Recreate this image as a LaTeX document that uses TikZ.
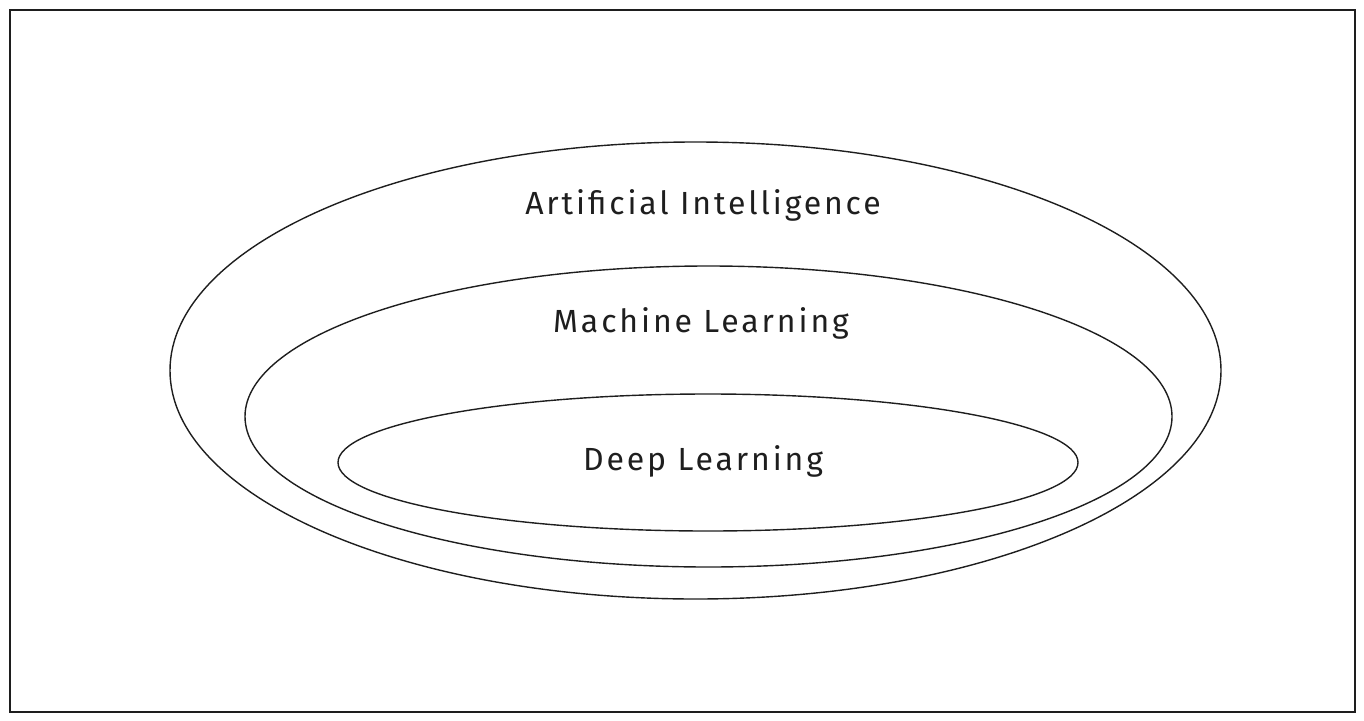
\documentclass[tikz,border=0pt]{standalone}
\usepackage{fontspec}
\usetikzlibrary{shapes.geometric}
\setmainfont{Fira Sans}[LetterSpace=9]
\definecolor{ink}{HTML}{1E1E1E}
\begin{document}
\begin{tikzpicture}[x=1pt,y=-1pt,
  shape line/.style={draw=ink,line width=1.4pt},
  oval/.style={draw=ink,line width=1.4pt,ellipse,inner sep=0pt},
  label/.style={text=ink,font=\fontsize{32}{38}\selectfont,anchor=base,inner sep=0pt}]
\useasboundingbox (0,0) rectangle (1364,720);
\draw[shape line] (10,10) rectangle (1355,712);
\node[oval,minimum width=1051pt,minimum height=457pt] (ai) at (695.5,370.5) {};
\node[oval,minimum width=927pt,minimum height=301pt] (ml) at (708.5,416.5) {};
\node[oval,minimum width=740pt,minimum height=137pt] (dl) at (708,462.5) {};
\node[label] (tai) at (703,214) {Artificial Intelligence};
\node[label] (tml) at (701,332) {Machine Learning};
\node[label] (tdl) at (703,470) {Deep Learning};
\end{tikzpicture}
\end{document}
